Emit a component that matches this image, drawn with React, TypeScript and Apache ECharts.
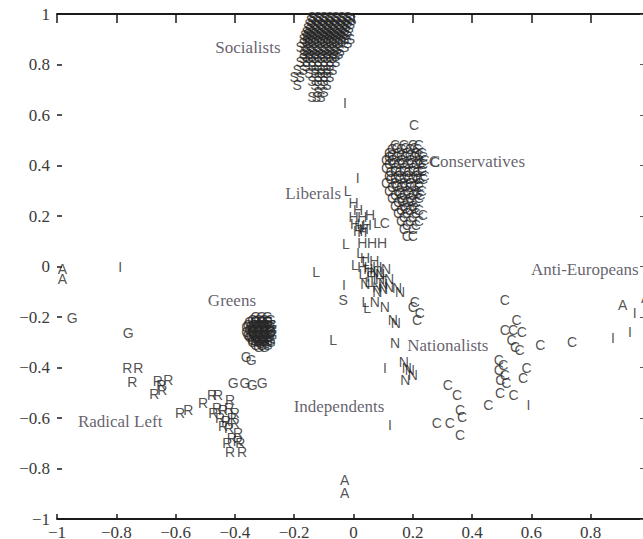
import React, { useEffect, useRef } from "react";
import * as echarts from "echarts";

// Party codes plotted as letters: [x, y]
const sPoints: number[][] = [
  [-0.14, 0.99], [-0.12, 0.99], [-0.1, 0.99], [-0.08, 0.99], [-0.06, 0.99], [-0.04, 0.99], [-0.02, 0.99],
  [-0.135, 0.985], [-0.115, 0.985], [-0.095, 0.985], [-0.075, 0.985], [-0.055, 0.985], [-0.035, 0.985], [-0.015, 0.985],
  [-0.145, 0.975], [-0.125, 0.975], [-0.105, 0.975], [-0.085, 0.975], [-0.065, 0.975], [-0.045, 0.975], [-0.025, 0.975], [-0.005, 0.975],
  [-0.14, 0.967], [-0.12, 0.967], [-0.1, 0.967], [-0.08, 0.967], [-0.06, 0.967], [-0.04, 0.967], [-0.02, 0.967],
  [-0.15, 0.96], [-0.13, 0.96], [-0.11, 0.96], [-0.09, 0.96], [-0.07, 0.96], [-0.05, 0.96], [-0.03, 0.96], [-0.01, 0.96],
  [-0.145, 0.952], [-0.125, 0.952], [-0.105, 0.952], [-0.085, 0.952], [-0.065, 0.952], [-0.045, 0.952], [-0.025, 0.952],
  [-0.155, 0.945], [-0.135, 0.945], [-0.115, 0.945], [-0.095, 0.945], [-0.075, 0.945], [-0.055, 0.945], [-0.035, 0.945], [-0.015, 0.945],
  [-0.15, 0.937], [-0.13, 0.937], [-0.11, 0.937], [-0.09, 0.937], [-0.07, 0.937], [-0.05, 0.937], [-0.03, 0.937],
  [-0.16, 0.93], [-0.14, 0.93], [-0.12, 0.93], [-0.1, 0.93], [-0.08, 0.93], [-0.06, 0.93], [-0.04, 0.93], [-0.02, 0.93],
  [-0.155, 0.922], [-0.135, 0.922], [-0.115, 0.922], [-0.095, 0.922], [-0.075, 0.922], [-0.055, 0.922], [-0.035, 0.922],
  [-0.165, 0.915], [-0.145, 0.915], [-0.125, 0.915], [-0.105, 0.915], [-0.085, 0.915], [-0.065, 0.915], [-0.045, 0.915], [-0.025, 0.915],
  [-0.16, 0.907], [-0.14, 0.907], [-0.12, 0.907], [-0.1, 0.907], [-0.08, 0.907], [-0.06, 0.907], [-0.04, 0.907],
  [-0.17, 0.9], [-0.15, 0.9], [-0.13, 0.9], [-0.11, 0.9], [-0.09, 0.9], [-0.07, 0.9], [-0.05, 0.9], [-0.03, 0.9], [-0.01, 0.9],
  [-0.16, 0.892], [-0.14, 0.892], [-0.12, 0.892], [-0.1, 0.892], [-0.08, 0.892], [-0.06, 0.892], [-0.04, 0.892],
  [-0.17, 0.885], [-0.15, 0.885], [-0.13, 0.885], [-0.11, 0.885], [-0.09, 0.885], [-0.07, 0.885], [-0.05, 0.885], [-0.02, 0.885],
  [-0.18, 0.87], [-0.16, 0.87], [-0.14, 0.87], [-0.12, 0.87], [-0.1, 0.87], [-0.08, 0.87], [-0.06, 0.87], [-0.03, 0.87],
  [-0.155, 0.862], [-0.135, 0.862], [-0.115, 0.862], [-0.095, 0.862], [-0.075, 0.862], [-0.055, 0.862],
  [-0.165, 0.855], [-0.145, 0.855], [-0.125, 0.855], [-0.105, 0.855], [-0.085, 0.855], [-0.065, 0.855], [-0.045, 0.855],
  [-0.17, 0.84], [-0.15, 0.84], [-0.13, 0.84], [-0.11, 0.84], [-0.09, 0.84], [-0.07, 0.84], [-0.05, 0.84],
  [-0.16, 0.832], [-0.14, 0.832], [-0.12, 0.832], [-0.1, 0.832], [-0.08, 0.832], [-0.06, 0.832],
  [-0.17, 0.825], [-0.15, 0.825], [-0.13, 0.825], [-0.11, 0.825], [-0.09, 0.825], [-0.07, 0.825],
  [-0.18, 0.81], [-0.16, 0.81], [-0.14, 0.81], [-0.12, 0.81], [-0.1, 0.81], [-0.08, 0.81], [-0.06, 0.81],
  [-0.16, 0.795], [-0.14, 0.795], [-0.12, 0.795], [-0.1, 0.795], [-0.08, 0.795],
  [-0.19, 0.78], [-0.17, 0.78], [-0.13, 0.78], [-0.11, 0.78], [-0.09, 0.78], [-0.07, 0.78],
  [-0.15, 0.765], [-0.13, 0.765], [-0.11, 0.765], [-0.09, 0.765],
  [-0.2, 0.75], [-0.18, 0.75], [-0.12, 0.75], [-0.1, 0.75], [-0.08, 0.75],
  [-0.14, 0.735], [-0.12, 0.735], [-0.1, 0.735],
  [-0.19, 0.72], [-0.13, 0.72], [-0.11, 0.72], [-0.09, 0.72],
  [-0.12, 0.69], [-0.1, 0.69],
  [-0.14, 0.67], [-0.125, 0.67], [-0.11, 0.67],
  [-0.035, -0.133],
];

const cPoints: number[][] = [
  [0.204, 0.56], [0.275, 0.414],
  [0.14, 0.48], [0.17, 0.48], [0.2, 0.48], [0.22, 0.48],
  [0.145, 0.47], [0.175, 0.47], [0.205, 0.47],
  [0.13, 0.465], [0.16, 0.465], [0.19, 0.465], [0.215, 0.465],
  [0.12, 0.45], [0.15, 0.45], [0.18, 0.45], [0.21, 0.45], [0.23, 0.45],
  [0.13, 0.44], [0.16, 0.44], [0.19, 0.44], [0.22, 0.44],
  [0.12, 0.435], [0.145, 0.435], [0.175, 0.435], [0.205, 0.435], [0.235, 0.435],
  [0.11, 0.42], [0.13, 0.42], [0.16, 0.42], [0.19, 0.42], [0.22, 0.42], [0.24, 0.42],
  [0.135, 0.41], [0.165, 0.41], [0.195, 0.41], [0.225, 0.41],
  [0.12, 0.405], [0.15, 0.405], [0.18, 0.405], [0.21, 0.405], [0.235, 0.405],
  [0.11, 0.39], [0.14, 0.39], [0.17, 0.39], [0.2, 0.39], [0.23, 0.39],
  [0.14, 0.38], [0.17, 0.38], [0.2, 0.38], [0.23, 0.38],
  [0.125, 0.375], [0.155, 0.375], [0.185, 0.375], [0.215, 0.375],
  [0.12, 0.36], [0.15, 0.36], [0.18, 0.36], [0.21, 0.36], [0.24, 0.36],
  [0.14, 0.35], [0.17, 0.35], [0.2, 0.35], [0.225, 0.35],
  [0.125, 0.345], [0.155, 0.345], [0.185, 0.345], [0.215, 0.345], [0.235, 0.345],
  [0.11, 0.33], [0.14, 0.33], [0.17, 0.33], [0.19, 0.33], [0.22, 0.33],
  [0.145, 0.32], [0.175, 0.32], [0.205, 0.32],
  [0.13, 0.315], [0.16, 0.315], [0.19, 0.315], [0.22, 0.315],
  [0.12, 0.3], [0.15, 0.3], [0.18, 0.3], [0.21, 0.3], [0.23, 0.3],
  [0.155, 0.29], [0.185, 0.29], [0.215, 0.29],
  [0.14, 0.285], [0.17, 0.285], [0.2, 0.285], [0.225, 0.285],
  [0.13, 0.27], [0.16, 0.27], [0.19, 0.27], [0.22, 0.27],
  [0.165, 0.26], [0.195, 0.26],
  [0.15, 0.255], [0.18, 0.255], [0.21, 0.255],
  [0.14, 0.24], [0.17, 0.24], [0.2, 0.24], [0.234, 0.204],
  [0.175, 0.23], [0.205, 0.23],
  [0.16, 0.225], [0.19, 0.225], [0.22, 0.225],
  [0.15, 0.21], [0.18, 0.21], [0.21, 0.21],
  [0.17, 0.195], [0.2, 0.195],
  [0.16, 0.18], [0.19, 0.18], [0.22, 0.18],
  [0.18, 0.165], [0.21, 0.165],
  [0.17, 0.15], [0.2, 0.15], [0.18, 0.12], [0.2, 0.12],
  [0.106, 0.172],
  [0.207, -0.14], [0.224, -0.185], [0.214, -0.21], [0.2, -0.16],
  [0.51, -0.133], [0.55, -0.21], [0.51, -0.25], [0.538, -0.25], [0.568, -0.26],
  [0.533, -0.29], [0.545, -0.32], [0.56, -0.33], [0.63, -0.31], [0.737, -0.3],
  [0.49, -0.37], [0.505, -0.39], [0.49, -0.41], [0.51, -0.43], [0.495, -0.45], [0.515, -0.46],
  [0.584, -0.4], [0.572, -0.44], [0.54, -0.51], [0.494, -0.5], [0.455, -0.55],
  [0.318, -0.47], [0.349, -0.51], [0.359, -0.568], [0.366, -0.596], [0.359, -0.667],
  [0.281, -0.62], [0.325, -0.62],
];

const lPoints: number[][] = [
  [-0.02, 0.3], [0.08, 0.172], [-0.026, 0.089], [0.022, 0.053], [0.005, 0.006],
  [-0.126, -0.02], [0.03, -0.03], [0.07, -0.06], [0.04, -0.14], [0.046, -0.165],
  [-0.069, -0.29], [0.1, -0.02], [0.04, 0.02], [0.05, -0.06],
];

const hPoints: number[][] = [
  [0.0, 0.25], [0.015, 0.225], [0.0, 0.196], [0.03, 0.196], [0.056, 0.204],
  [0.005, 0.17], [0.02, 0.16], [0.035, 0.15], [0.015, 0.14], [0.03, 0.135], [0.045, 0.165],
  [0.03, 0.093], [0.063, 0.093], [0.096, 0.093], [0.039, 0.034],
  [0.03, 0.0], [0.05, -0.01], [0.08, 0.0], [0.06, -0.04], [0.09, -0.05], [0.07, 0.02], [0.06, -0.02],
];

const nPoints: number[][] = [
  [0.07, -0.02], [0.11, -0.01], [0.04, -0.07], [0.08, -0.08], [0.12, -0.05], [0.1, -0.09],
  [0.09, -0.03], [0.1, -0.07], [0.12, -0.08], [0.08, -0.1],
  [0.072, -0.14], [0.106, -0.16], [0.147, -0.085], [0.157, -0.1],
  [0.133, -0.21], [0.143, -0.225], [0.14, -0.303],
  [0.17, -0.38], [0.18, -0.4], [0.19, -0.41], [0.2, -0.43], [0.175, -0.45],
];

const gPoints: number[][] = [
  [-0.949, -0.204], [-0.76, -0.263],
  [-0.33, -0.2], [-0.31, -0.2], [-0.29, -0.2],
  [-0.34, -0.21], [-0.32, -0.21], [-0.3, -0.21], [-0.28, -0.21],
  [-0.33, -0.215], [-0.31, -0.215], [-0.29, -0.215],
  [-0.35, -0.22], [-0.33, -0.22], [-0.31, -0.22], [-0.29, -0.22],
  [-0.355, -0.23], [-0.335, -0.23], [-0.315, -0.23], [-0.295, -0.23], [-0.275, -0.23],
  [-0.345, -0.235], [-0.325, -0.235], [-0.305, -0.235], [-0.285, -0.235],
  [-0.36, -0.24], [-0.34, -0.24], [-0.32, -0.24], [-0.3, -0.24], [-0.28, -0.24],
  [-0.35, -0.25], [-0.33, -0.25], [-0.31, -0.25], [-0.29, -0.25], [-0.275, -0.25],
  [-0.34, -0.255], [-0.32, -0.255], [-0.3, -0.255], [-0.28, -0.255],
  [-0.36, -0.26], [-0.34, -0.26], [-0.32, -0.26], [-0.3, -0.26], [-0.28, -0.26],
  [-0.355, -0.27], [-0.335, -0.27], [-0.315, -0.27], [-0.295, -0.27], [-0.275, -0.27],
  [-0.345, -0.275], [-0.325, -0.275], [-0.305, -0.275], [-0.285, -0.275],
  [-0.35, -0.28], [-0.33, -0.28], [-0.31, -0.28], [-0.29, -0.28],
  [-0.34, -0.29], [-0.32, -0.29], [-0.3, -0.29], [-0.28, -0.29],
  [-0.33, -0.295], [-0.31, -0.295], [-0.29, -0.295],
  [-0.34, -0.3], [-0.32, -0.3], [-0.3, -0.3], [-0.28, -0.3],
  [-0.33, -0.31], [-0.31, -0.31], [-0.29, -0.31],
  [-0.32, -0.32], [-0.3, -0.32],
  [-0.362, -0.36], [-0.345, -0.37],
  [-0.406, -0.46], [-0.366, -0.46], [-0.342, -0.47], [-0.308, -0.46],
];

const rPoints: number[][] = [
  [-0.763, -0.4], [-0.726, -0.4], [-0.746, -0.456],
  [-0.66, -0.455], [-0.625, -0.45], [-0.648, -0.47], [-0.672, -0.505], [-0.645, -0.49],
  [-0.585, -0.58], [-0.557, -0.568],
  [-0.507, -0.54], [-0.477, -0.51], [-0.457, -0.51], [-0.416, -0.53], [-0.473, -0.58],
  [-0.46, -0.56], [-0.44, -0.57], [-0.42, -0.56], [-0.4, -0.58], [-0.45, -0.6],
  [-0.43, -0.61], [-0.41, -0.6], [-0.44, -0.63], [-0.42, -0.64], [-0.4, -0.62],
  [-0.389, -0.66], [-0.41, -0.68], [-0.39, -0.69], [-0.426, -0.7], [-0.382, -0.7],
  [-0.416, -0.735], [-0.376, -0.735],
];

const aPoints: number[][] = [
  [-0.982, -0.01], [-0.982, -0.05],
  [-0.03, -0.846], [-0.03, -0.897],
  [0.908, -0.152], [0.985, -0.125],
];

const iPoints: number[][] = [
  [-0.029, 0.647], [0.014, 0.35], [-0.787, 0.0], [-0.032, -0.073],
  [0.106, -0.4], [0.123, -0.628], [0.59, -0.55],
  [0.948, -0.185], [0.932, -0.26], [0.875, -0.283],
];

const partyNames: string[] = [
  "Socialists", "Conservatives", "Liberals", "Greens",
  "Radical Left", "Independents", "Nationalists", "Anti-Europeans",
];
const partyLabelAt: number[][] = [
  [-0.356, 0.869], [0.416, 0.414], [-0.136, 0.291], [-0.41, -0.133],
  [-0.787, -0.612], [-0.049, -0.556], [0.318, -0.311], [0.78, -0.01],
];

const letterGroups: { letter: string; points: number[][] }[] = [
  { letter: "S", points: sPoints },
  { letter: "C", points: cPoints },
  { letter: "L", points: lPoints },
  { letter: "H", points: hPoints },
  { letter: "N", points: nPoints },
  { letter: "G", points: gPoints },
  { letter: "R", points: rPoints },
  { letter: "A", points: aPoints },
  { letter: "I", points: iPoints },
];

const fmt = (v: number) => {
  const r = Math.round(v * 10) / 10;
  if (r === 0) return "0";
  return String(r).replace("-", "\u2212");
};

export default function App() {
  const ref = useRef<HTMLDivElement>(null);
  useEffect(() => {
    if (!ref.current) return;
    const chart = echarts.init(ref.current, undefined, { renderer: "svg" });
    const serif = "Liberation Serif";
    const axisCommon = {
      type: "value" as const,
      min: -1,
      max: 1,
      interval: 0.2,
      splitLine: { show: false },
    };
    const letterSeries = letterGroups.map((g) => ({
      type: "scatter",
      name: g.letter,
      data: g.points,
      symbol: "circle",
      symbolSize: 1,
      itemStyle: { color: "rgba(0,0,0,0)" },
      silent: true,
      label: {
        show: true,
        position: "inside",
        formatter: g.letter,
        color: "#262626",
        textBorderWidth: 0,
        textBorderColor: "transparent",
        fontFamily: "Liberation Sans",
        fontSize: 14,
      },
      z: 3,
    }));
    const nameSeries = {
      type: "scatter",
      name: "parties",
      data: partyLabelAt.map((p, i) => ({ value: p, name: partyNames[i] })),
      symbol: "circle",
      symbolSize: 1,
      itemStyle: { color: "rgba(0,0,0,0)" },
      silent: true,
      label: {
        show: true,
        position: "inside",
        formatter: (p: any) => p.name,
        color: "#3e3848",
        textBorderWidth: 0,
        textBorderColor: "transparent",
        fontFamily: serif,
        fontSize: 17,
      },
      z: 4,
    };
    chart.setOption({
      animation: false,
      backgroundColor: "#ffffff",
      grid: { left: 57, top: 14, width: 593, height: 505, containLabel: false, outerBoundsMode: "none" },
      xAxis: [
        {
          ...axisCommon,
          position: "bottom",
          axisLine: { show: true, onZero: false, lineStyle: { color: "#1a1a1a", width: 1.8 } },
          axisTick: { show: true, inside: true, length: 5, lineStyle: { color: "#1a1a1a", width: 1.5 } },
          axisLabel: { show: true, margin: 5, formatter: fmt, color: "#3a3a3a", fontFamily: serif, fontSize: 17 },
        },
        {
          ...axisCommon,
          position: "top",
          axisLine: { show: true, onZero: false, lineStyle: { color: "#1a1a1a", width: 1.8 } },
          axisTick: { show: true, inside: true, length: 9, lineStyle: { color: "#1a1a1a", width: 1.5 } },
          axisLabel: { show: false },
        },
      ],
      yAxis: [
        {
          ...axisCommon,
          position: "left",
          axisLine: { show: false, onZero: false },
          axisTick: { show: true, inside: true, length: 5, lineStyle: { color: "#1a1a1a", width: 1.5 } },
          axisLabel: { show: true, margin: 7, formatter: fmt, color: "#3a3a3a", fontFamily: serif, fontSize: 17 },
        },
        {
          ...axisCommon,
          position: "right",
          axisLine: { show: true, onZero: false, lineStyle: { color: "#1a1a1a", width: 1.8 } },
          axisTick: { show: true, inside: true, length: 10, lineStyle: { color: "#555", width: 1 } },
          axisLabel: { show: false },
        },
      ],
      series: [...letterSeries, nameSeries],
    });
    return () => chart.dispose();
  }, []);
  return (
    <div
      ref={ref}
      style={{ position: "fixed", left: 0, top: 0, width: 643, height: 539, background: "#fff" }}
    />
  );
}
